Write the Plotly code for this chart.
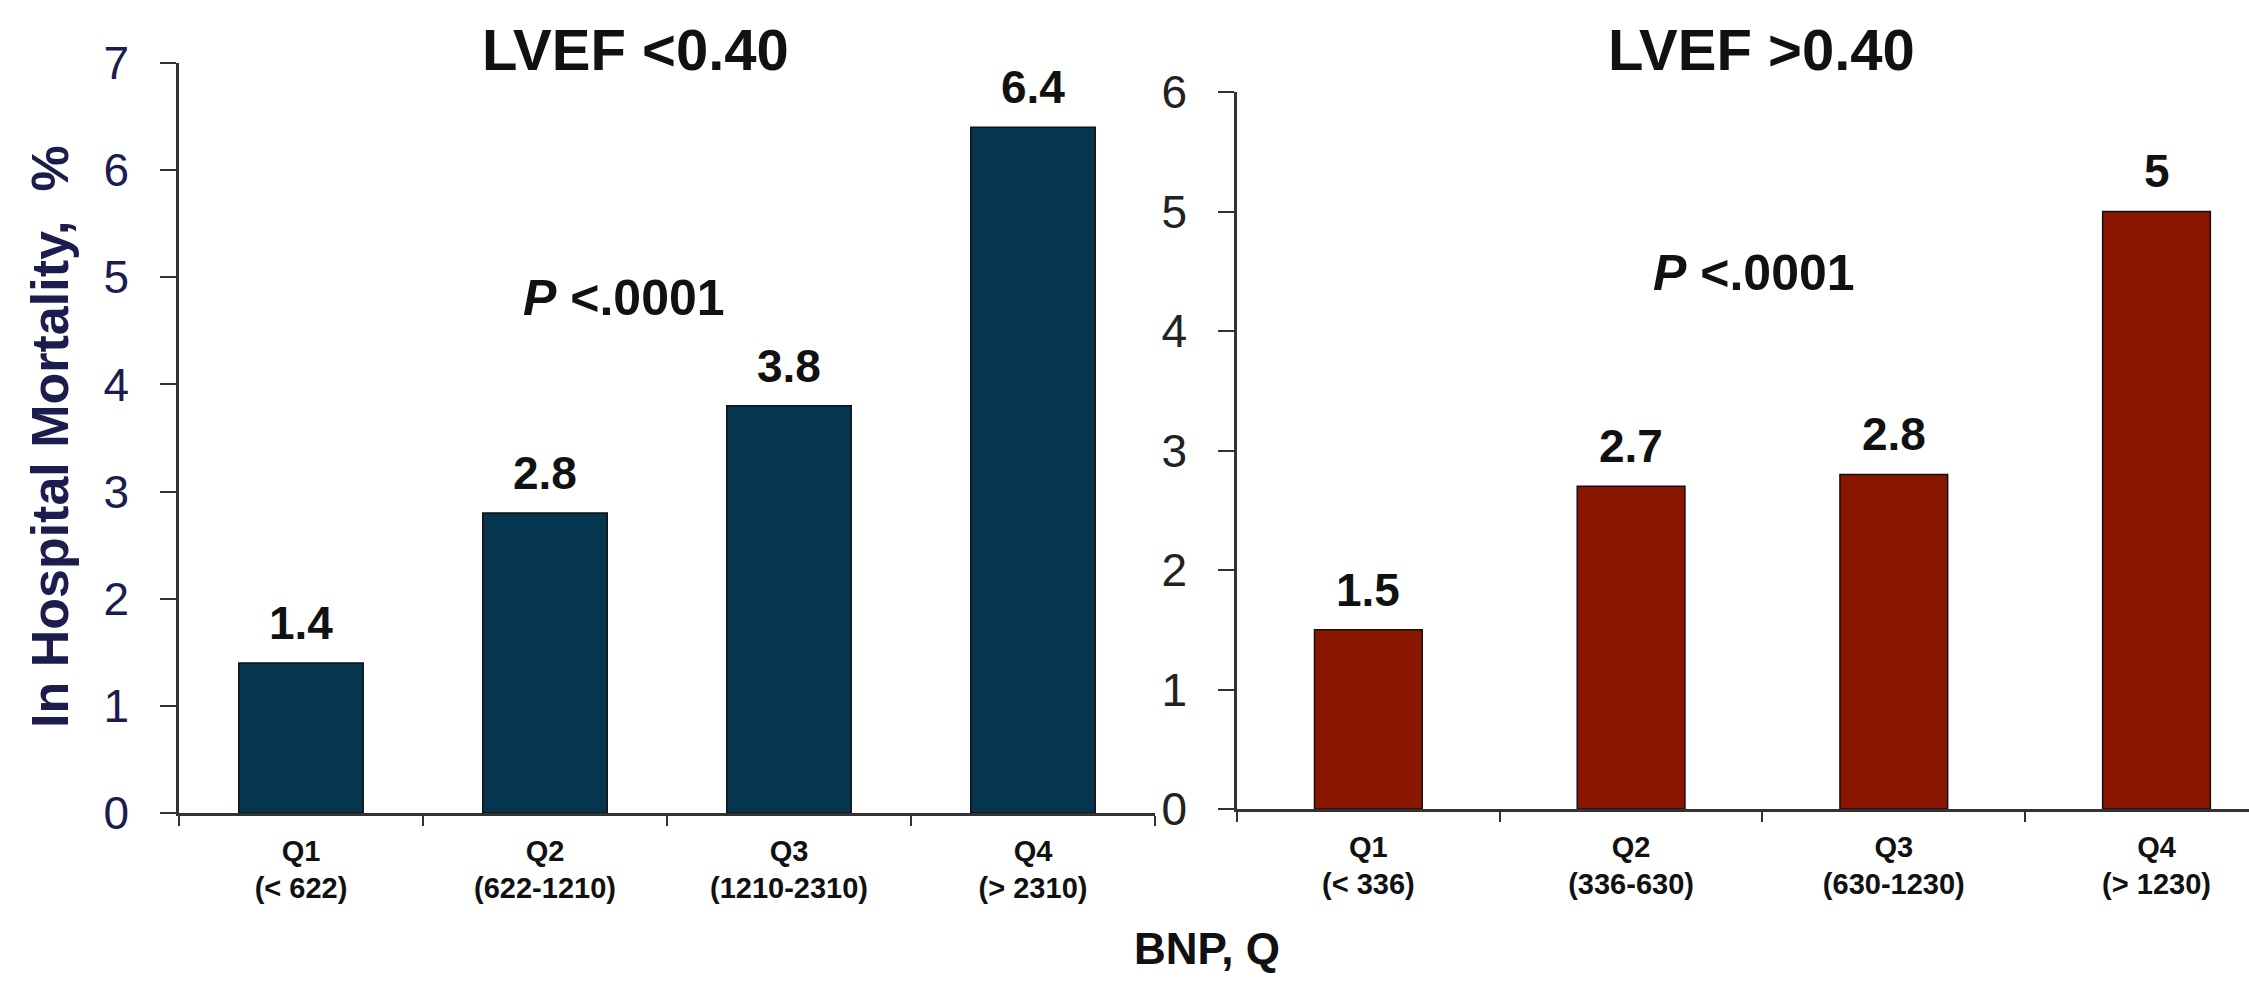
import plotly.graph_objects as go

W, H = 2249, 986

quartiles = ["Q1", "Q2", "Q3", "Q4"]
left_ranges = ["(< 622)", "(622-1210)", "(1210-2310)", "(> 2310)"]
right_ranges = ["(< 336)", "(336-630)", "(630-1230)", "(> 1230)"]
left_values = [1.4, 2.8, 3.8, 6.4]
right_values = [1.5, 2.7, 2.8, 5.0]
left_title = "LVEF <0.40"
right_title = "LVEF >0.40"
p_text = "<i>P</i> <.0001"
y_title = "In Hospital Mortality,  %"
x_title = "BNP, Q"

LEFT_COLOR = "#05354f"
RIGHT_COLOR = "#8a1600"
NAVY = "#1c1c4e"
FONT = "Liberation Sans, Arial, sans-serif"
NARROW = "Liberation Sans Narrow, Arial Narrow, Liberation Sans, sans-serif"

def px_x(p):
    return p / W

def px_y(p):
    return 1 - p / H

fig = go.Figure()
fig.add_trace(go.Bar(x=quartiles, y=left_values, width=0.51,
                     marker=dict(color=LEFT_COLOR, line=dict(color="#111", width=1.5)),
                     xaxis="x", yaxis="y", showlegend=False, hoverinfo="skip"))
fig.add_trace(go.Bar(x=quartiles, y=right_values, width=0.41,
                     marker=dict(color=RIGHT_COLOR, line=dict(color="#111", width=1.5)),
                     xaxis="x2", yaxis="y2", showlegend=False, hoverinfo="skip"))

common_x = dict(type="category", showline=True, linecolor="#333", linewidth=2.5,
                ticks="outside", tickson="boundaries", ticklen=10, tickwidth=2, tickcolor="#333",
                showgrid=False, zeroline=False, fixedrange=True, automargin=False,
                tickfont=dict(family=NARROW, size=29, color="#111"),
                tickvals=quartiles, ticklabelstandoff=10)
common_y = dict(showline=True, linecolor="#333", linewidth=2.5, ticks="outside",
                ticklen=16, tickwidth=2, tickcolor="#333", showgrid=False, zeroline=False,
                dtick=1, fixedrange=True, ticklabelstandoff=22, automargin=False)

fig.update_layout(
    width=W, height=H,
    margin=dict(l=0, r=0, t=0, b=0, autoexpand=False),
    paper_bgcolor="white", plot_bgcolor="white",
    font=dict(family=FONT),
    xaxis=dict(common_x, domain=[px_x(179), px_x(1155)], range=[-0.5, 3.5],
               anchor="y",
               ticktext=[f"<b>{q}</b><br><b>{r}</b>" for q, r in zip(quartiles, left_ranges)]),
    yaxis=dict(common_y, domain=[px_y(813), px_y(63)], range=[0, 7], anchor="x",
               tickfont=dict(family=FONT, size=46, color=NAVY)),
    xaxis2=dict(common_x, domain=[px_x(1237), 1.0], range=[-0.5, 3.352],
                anchor="y2",
                ticktext=[f"<b>{q}</b><br><b>{r}</b>" for q, r in zip(quartiles, right_ranges)]),
    yaxis2=dict(common_y, domain=[px_y(809), px_y(92)], range=[0, 6], anchor="x2",
                tickfont=dict(family=FONT, size=46, color="#222")),
)

annotations = []
for q, v in zip(quartiles, left_values):
    annotations.append(dict(x=q, y=v, xref="x", yref="y", text=f"<b>{v:g}</b>",
                            showarrow=False, xanchor="center", yanchor="bottom", yshift=12,
                            font=dict(family=FONT, size=46, color="#111")))
for q, v in zip(quartiles, right_values):
    annotations.append(dict(x=q, y=v, xref="x2", yref="y2", text=f"<b>{v:g}</b>",
                            showarrow=False, xanchor="center", yanchor="bottom", yshift=12,
                            font=dict(family=FONT, size=46, color="#111")))

def label(x, y, text, size, angle=0, color="#111"):
    return dict(x=px_x(x), y=px_y(y), xref="paper", yref="paper", text=text,
                xanchor="center", yanchor="middle", textangle=angle, showarrow=False,
                font=dict(family=FONT, size=size, color=color))

annotations += [
    label(635, 50, f"<b>{left_title}</b>", 58),
    label(1761, 50, f"<b>{right_title}</b>", 58),
    label(624, 298, f"<b>{p_text}</b>", 50),
    label(1754, 273, f"<b>{p_text}</b>", 50),
    label(50, 437, f"<b>{y_title}</b>", 52, angle=-90, color=NAVY),
    label(1207, 948, f"<b>{x_title}</b>", 44),
]
fig.update_layout(annotations=annotations)

fig.write_html("out.html", config=dict(displayModeBar=False))
